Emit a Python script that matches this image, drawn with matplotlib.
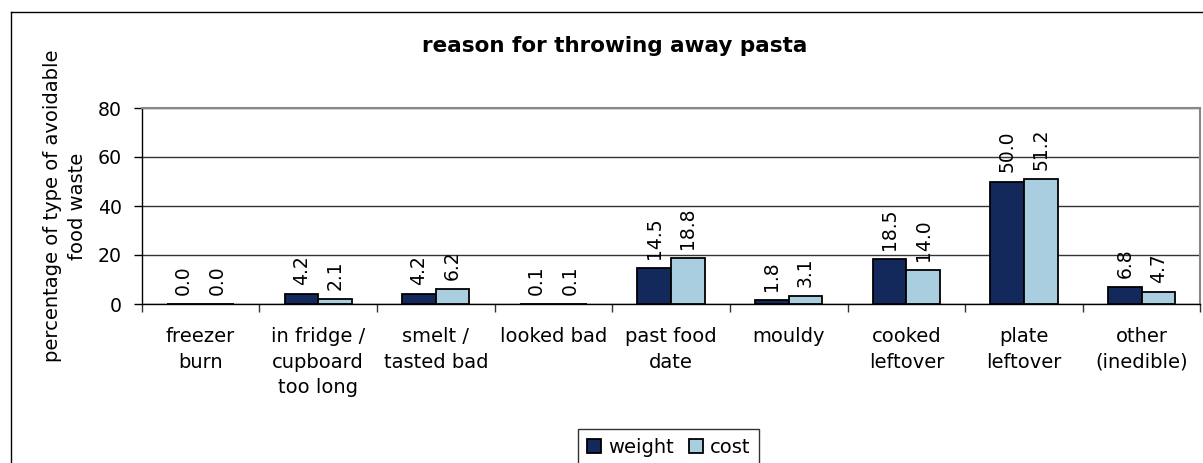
import matplotlib
matplotlib.use("Agg")
import matplotlib.pyplot as plt
import numpy as np
from matplotlib.lines import Line2D

plt.rcParams["font.family"] = ["DejaVu Sans"]

# data
categories = [
    "freezer\nburn", "in fridge /\ncupboard\ntoo long", "smelt /\ntasted bad",
    "looked bad", "past food\ndate", "mouldy", "cooked\nleftover",
    "plate\nleftover", "other\n(inedible)",
]
weight = [0.0, 4.2, 4.2, 0.1, 14.5, 1.8, 18.5, 50.0, 6.8]
cost = [0.0, 2.1, 6.2, 0.1, 18.8, 3.1, 14.0, 51.2, 4.7]
series_names = ["weight", "cost"]
y_ticks = [0, 20, 40, 60, 80]

W, H = 1203, 463
fig = plt.figure(figsize=(W / 100, H / 100), dpi=100)
ax = fig.add_axes([141.7 / W, 1 - 304 / H, (1200.5 - 141.7) / W, (304 - 108) / H])

x = np.arange(len(categories))
bw = 1 / 3.5
navy = "#13295B"
light = "#A8CEE0"
b1 = ax.bar(x - bw / 2, weight, bw, color=navy, edgecolor="black", linewidth=1.3, zorder=3)
b2 = ax.bar(x + bw / 2, cost, bw, color=light, edgecolor="black", linewidth=1.3, zorder=3)

for bars, vals in ((b1, weight), (b2, cost)):
    for rect, v in zip(bars, vals):
        ax.annotate(f"{v:.1f}", (rect.get_x() + rect.get_width() / 2, rect.get_height()),
                    xytext=(0, 6.5), textcoords="offset points",
                    rotation=90, ha="center", va="bottom", fontsize=13.5, zorder=4)

ax.set_xlim(-0.5, len(categories) - 0.5)
ax.set_ylim(0, 80)
ax.set_yticks(y_ticks)
ax.tick_params(axis="y", length=5.8, width=1, pad=8.5, labelsize=13.6, color="black")
ax.yaxis.grid(True, color="#333333", linewidth=1, zorder=0)

# category boundaries get the ticks, centres get the labels
ax.set_xticks(np.arange(-0.5, len(categories), 1.0))
ax.set_xticklabels([])
ax.set_xticks(x, minor=True)
ax.set_xticklabels(categories, minor=True, fontsize=14, linespacing=1.45)
ax.tick_params(axis="x", which="major", length=5.5, width=1, color="#333333")
ax.tick_params(axis="x", which="minor", length=0, pad=16.5)

for side in ("left", "bottom"):
    ax.spines[side].set_color("black")
    ax.spines[side].set_linewidth(1)
for side in ("top", "right"):
    ax.spines[side].set_color("#888888")
    ax.spines[side].set_linewidth(1.5)

fig.text(65 / W, 1 - 206 / H, "percentage of type of avoidable\nfood waste",
         rotation=90, ha="center", va="center", fontsize=14, linespacing=1.45)
fig.text(614.7 / W, 1 - 51.7 / H, "reason for throwing away pasta",
         ha="center", va="baseline", fontsize=15.5, fontweight="bold")

leg = fig.legend([b1, b2], series_names, loc="upper left",
                 bbox_to_anchor=(578.3 / W, 1 - 429 / H), bbox_transform=fig.transFigure,
                 ncol=2, fontsize=14, frameon=True, fancybox=False, borderaxespad=0,
                 handlelength=0.72, handleheight=0.72, handletextpad=0.35,
                 columnspacing=0.8, borderpad=0.45)
leg.get_frame().set_edgecolor("black")
leg.get_frame().set_linewidth(1)

# outer chart frame (cut off on the right and bottom in the reference)
fx, fy = 11 / W, 1 - 12 / H
fig.add_artist(Line2D([fx, fx], [0, fy], transform=fig.transFigure, color="black", lw=1))
fig.add_artist(Line2D([fx, 1], [fy, fy], transform=fig.transFigure, color="black", lw=1))

fig.savefig("out.png", dpi=100)
